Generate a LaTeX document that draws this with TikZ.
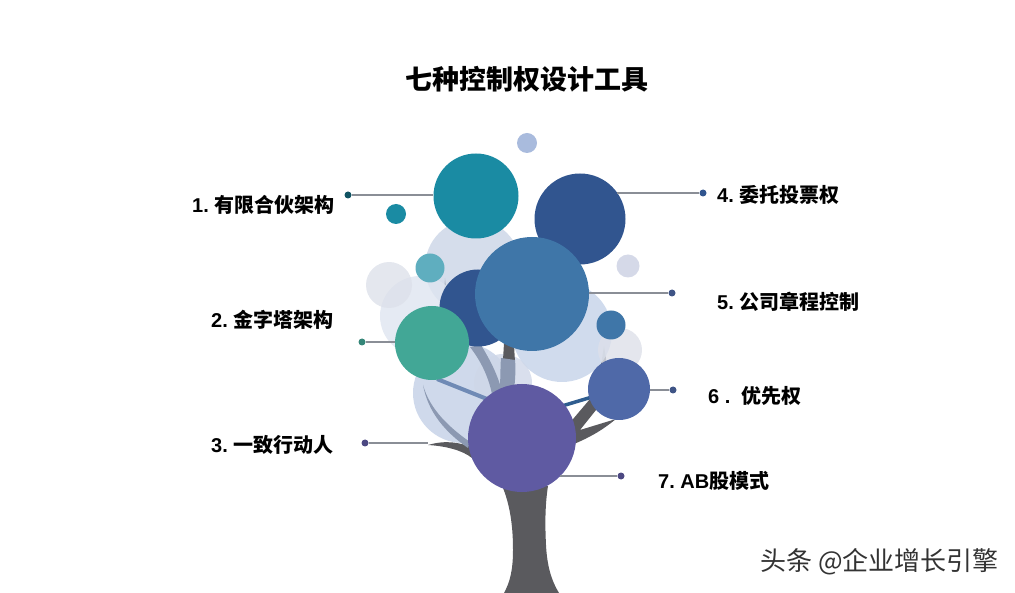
\documentclass[tikz,border=0pt]{standalone}
\usepackage{fontspec}
\setmainfont{Liberation Sans}
\newfontfamily\cjk{Noto Sans CJK SC}
\usetikzlibrary{positioning}
\definecolor{trunkgray}{HTML}{5A5A5E}
\definecolor{branchpale}{HTML}{8C99B2}
\definecolor{branchthin}{HTML}{6F8AB5}
\definecolor{branchblue}{HTML}{2F5D8F}
\definecolor{tealbig}{HTML}{1A8BA3}
\definecolor{navybig}{HTML}{31558F}
\definecolor{bluebig}{HTML}{3F76A8}
\definecolor{greenbig}{HTML}{42A796}
\definecolor{purplebig}{HTML}{5F5AA2}
\definecolor{slatebig}{HTML}{4F69A8}
\definecolor{leadgray}{HTML}{8A8E96}
\definecolor{palea}{HTML}{CBD5E6}
\definecolor{paleb}{HTML}{DFE5F0}
\definecolor{palec}{HTML}{DDE1EA}
\definecolor{paled}{HTML}{C4D2E9}
\definecolor{palee}{HTML}{DDE0E9}
\definecolor{palef}{HTML}{C3D0E6}
\definecolor{paleg}{HTML}{CFD7E8}
\definecolor{paleh}{HTML}{D5D9E8}
\definecolor{palei}{HTML}{A9BBDD}
\tikzset{
    bubble/.style={circle, inner sep=0pt, fill=#1},
    palebubble/.style={circle, inner sep=0pt, fill=#1, opacity=0.8},
    dotmark/.style={circle, inner sep=0pt, minimum size=7pt, fill=#1},
    leader/.style={draw=leadgray, line width=1.2pt},
    lab/.style={anchor=west, inner sep=0pt, font=\fontsize{20}{22}\selectfont\bfseries},
}
\begin{document}
\begin{tikzpicture}[x=1pt, y=-1pt]
    \useasboundingbox (0,0) rectangle (1015,593);
    % Title
    \node[inner sep=0pt, font=\fontsize{27}{29}\selectfont\bfseries\cjk] (title) at (527,79) {七种控制权设计工具};
    % Trunk and dark branches
    \fill[trunkgray] (503,488) .. controls (511,508) and (513,530) .. (513,550) .. controls (513,570) and (510,582) .. (504,593) -- (559,593) .. controls (551,580) and (547,565) .. (546,545) .. controls (545,525) and (545,505) .. (548,486) -- cycle;
    \fill[trunkgray] (428,445) .. controls (445,440) and (460,442) .. (473,448) -- (472,458) .. controls (462,450) and (445,446) .. (428,445) -- cycle;
    \fill[trunkgray] (568,425) -- (590,399) -- (600,405) -- (580,430) -- (616,419) .. controls (600,432) and (588,438) .. (574,444) -- cycle;
    \fill[trunkgray] (445,278) -- (448,300) -- (443,300) -- cycle;
    \fill[trunkgray] (604,346) -- (607,365) -- (601,365) -- cycle;
    % Pale bubbles
    \node[palebubble=palea, minimum size=96pt] (pale1) at (473,267) {};
    \node[palebubble=paleb, minimum size=80pt] (pale2) at (420,316) {};
    \node[palebubble=palec, minimum size=46pt] (pale3) at (389,285) {};
    \node[palebubble=paled, minimum size=100pt] (pale4) at (562,332) {};
    \node[palebubble=palee, minimum size=44pt] (pale5) at (620,350) {};
    \node[palebubble=palef, minimum size=100pt] (pale6) at (463,393) {};
    \node[palebubble=paleg, minimum size=58pt] (pale7) at (503,383) {};
    \node[bubble=paleh, minimum size=23pt] (pale8) at (628,266) {};
    \node[bubble=palei, minimum size=20pt] (pale9) at (527,143) {};
    % Pale branches over them
    \fill[trunkgray] (504,343) -- (514,345) -- (515,362) -- (503,360) -- cycle;
    \fill[branchpale] (501,358) -- (515,360) .. controls (516,370) and (515,380) .. (514,392) -- (499,392) .. controls (501,380) and (500,370) .. (501,358) -- cycle;
    \fill[branchpale] (470,347) -- (481,345) .. controls (490,360) and (498,375) .. (502,392) -- (492,394) .. controls (488,375) and (480,360) .. (470,347) -- cycle;
    \fill[branchpale] (423,385) .. controls (430,410) and (450,428) .. (470,442) -- (468,448) .. controls (445,432) and (428,412) .. (423,385) -- cycle;
    \draw[branchthin, line width=4pt] (437,379) -- (487,399);
    \draw[branchblue, line width=3.5pt] (562,406) -- (592,397);
    % Coloured bubbles
    \node[bubble=navybig, minimum size=77pt] (behind) at (478,308) {};
    \node[bubble=tealbig, minimum size=85pt] (bubblea) at (476,196) {};
    \node[bubble=tealbig, minimum size=20pt] (smallteal) at (396,214) {};
    \node[bubble=tealbig!70!white, minimum size=29pt] (midteal) at (430,268) {};
    \node[bubble=navybig, minimum size=91pt] (bubbled) at (580,219) {};
    \node[bubble=bluebig, minimum size=114pt] (bubblee) at (532,294) {};
    \node[bubble=bluebig, minimum size=29pt] (smallblue) at (611,325) {};
    \node[bubble=greenbig, minimum size=74pt] (bubbleb) at (432,343) {};
    \node[bubble=slatebig, minimum size=62pt] (bubblef) at (619,389) {};
    \node[bubble=purplebig, minimum size=108pt] (bubbleg) at (522,438) {};
    % Dots
    \node[dotmark=tealbig!60!black] (dota) at (348,195) {};
    \node[dotmark=navybig] (dotd) at (703,193) {};
    \node[dotmark=slatebig!80!black] (dote) at (672,293) {};
    \node[dotmark=greenbig!80!black] (dotb) at (362,342) {};
    \node[dotmark=slatebig!80!black] (dotf) at (673,390) {};
    \node[dotmark=purplebig!80!black] (dotc) at (365,443) {};
    \node[dotmark=purplebig!80!black] (dotg) at (621,476) {};
    \coordinate (tipc) at (428,443);
    % Leader lines
    \draw[leader] (dota) -- (dota -| bubblea.west);
    \draw[leader] (dotd) -- (dotd -| bubbled.35);
    \draw[leader] (dote) -- (dote -| bubblee.east);
    \draw[leader] (dotb) -- (dotb -| bubbleb.west);
    \draw[leader] (dotf) -- (dotf -| bubblef.east);
    \draw[leader] (dotc) -- (tipc);
    \draw[leader] (dotg) -- (dotg -| bubbleg.-45);
    % Labels
    \node[lab] (laba) at (192,205) {1.\hspace{5.5pt}{\cjk 有限合伙架构}};
    \node[lab] (labb) at (211,320) {2.\hspace{5.5pt}{\cjk 金字塔架构}};
    \node[lab] (labc) at (211,445) {3.\hspace{5.5pt}{\cjk 一致行动人}};
    \node[lab] (labd) at (717,195) {4.\hspace{5.5pt}{\cjk 委托投票权}};
    \node[lab] (labe) at (717,302) {5.\hspace{5.5pt}{\cjk 公司章程控制}};
    \node[lab] (labf) at (708,396) {6 .\ \ {\cjk 优先权}};
    \node[lab] (labg) at (658,481) {7.\hspace{5.5pt}AB{\cjk 股模式}};
    % Watermark
    \node[anchor=west, inner sep=0pt, text=black!80, font=\fontsize{26}{28}\selectfont\cjk] (mark) at (760,562) {头条 @企业增长引擎};
\end{tikzpicture}
\end{document}
